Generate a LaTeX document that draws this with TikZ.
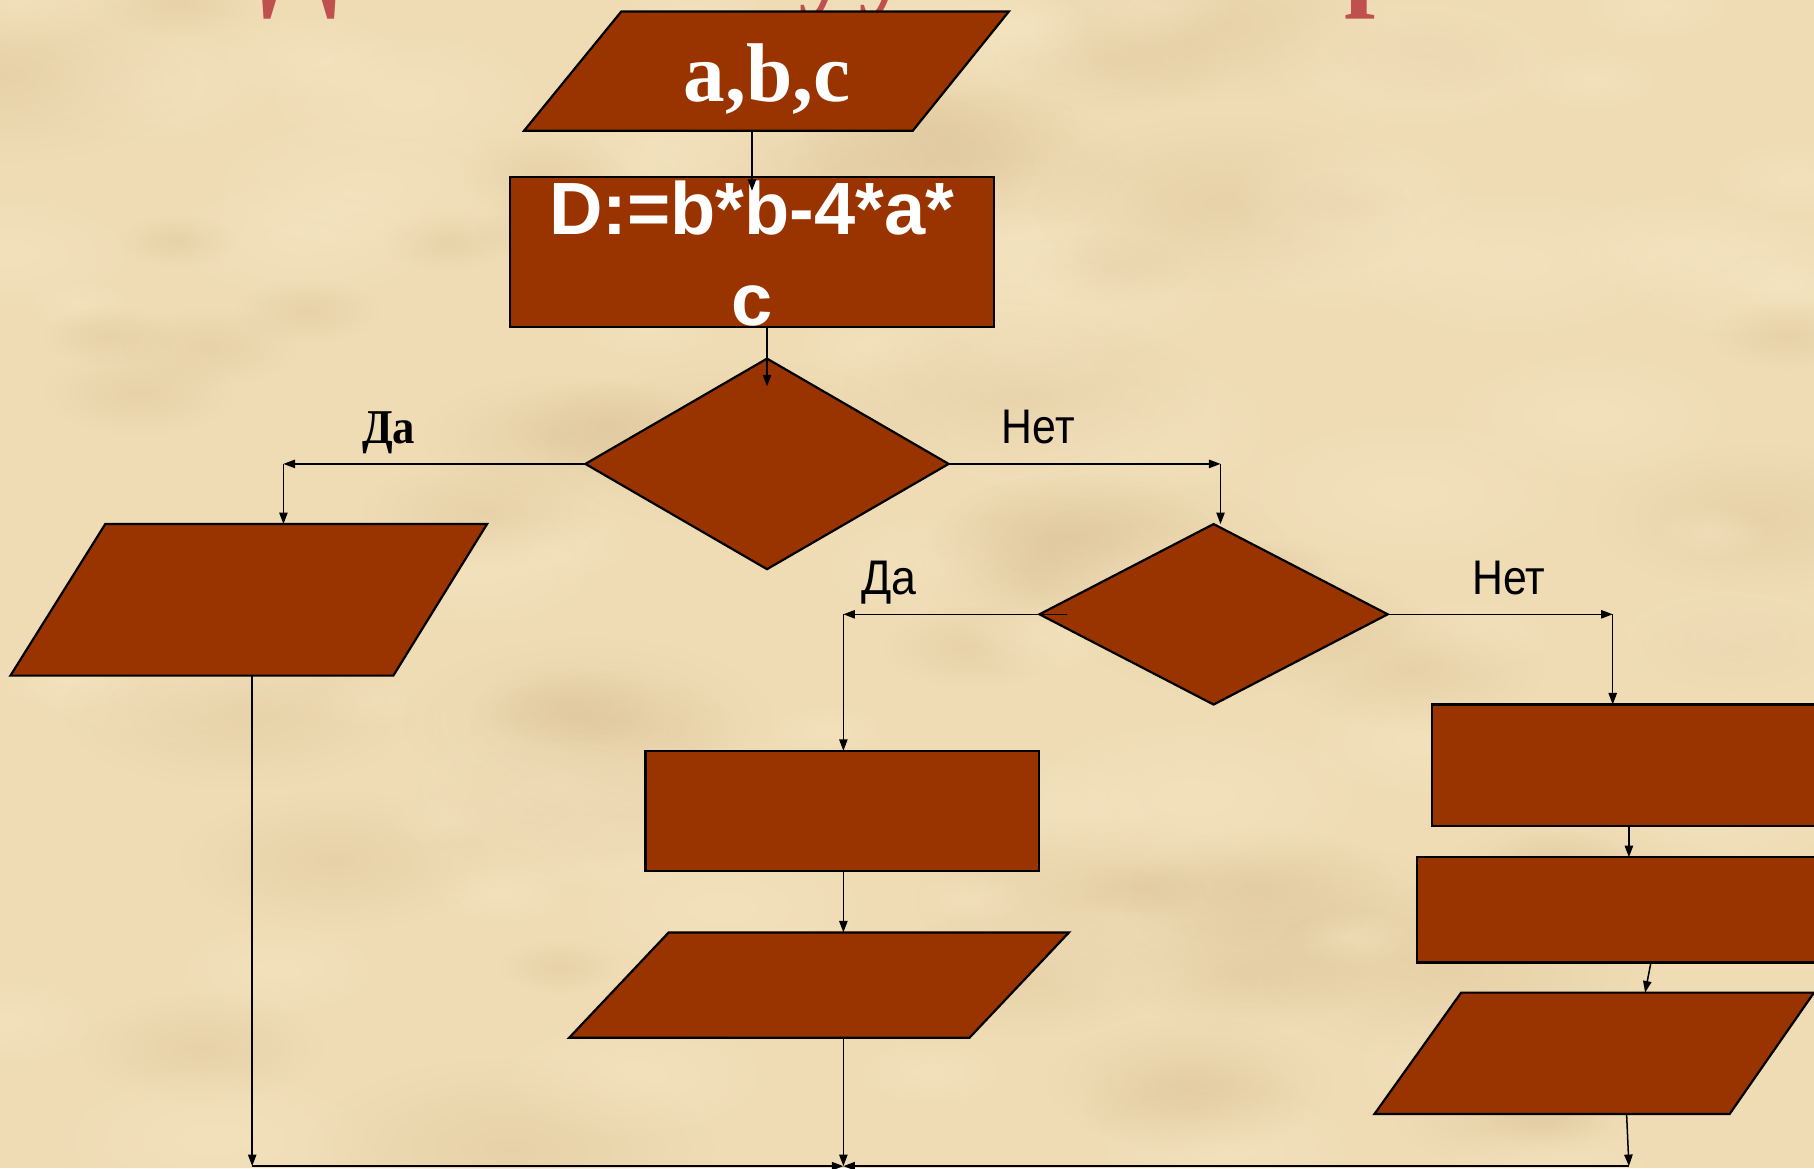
\documentclass[tikz,border=0pt]{standalone}
\usepackage{fontspec}
\setmainfont{Liberation Serif}
\newfontfamily\arial{Liberation Sans}
\usetikzlibrary{arrows.meta,shapes.geometric,fadings}
\definecolor{bgc}{HTML}{EFDCB5}
\definecolor{bglight}{HTML}{FAEACA}
\definecolor{bgdark}{HTML}{D9BF93}
\definecolor{brownf}{HTML}{993300}
\definecolor{titlered}{HTML}{C0504D}
\tikzfading[name=softblob, inner color=transparent!20, outer color=transparent!100]
\tikzset{
  box/.style={draw=black, line width=0.95pt, fill=brownf, inner sep=0pt, outer sep=0pt},
  anch/.style={inner sep=0pt, outer sep=0pt, minimum width=1pt},
  arr/.style={-{Triangle[length=5pt,width=3.6pt]}, line width=0.65pt},
  lbl/.style={anchor=base, inner sep=0pt, font=\arial\fontsize{21pt}{25pt}\selectfont},
  lblserif/.style={anchor=base, inner sep=0pt, font=\bfseries\fontsize{21pt}{25pt}\selectfont},
  dtext/.style={anchor=base, inner sep=0pt, text=white, font=\arial\bfseries\fontsize{32pt}{38pt}\selectfont},
  abctext/.style={anchor=base, inner sep=0pt, text=white, font=\bfseries\fontsize{36pt}{43pt}\selectfont},
  titletext/.style={anchor=base west, inner sep=0pt, text=titlered, font=\bfseries\fontsize{48pt}{56pt}\selectfont},
}
\begin{document}
\begin{tikzpicture}[x=0.5pt,y=-0.5pt]
\useasboundingbox (0,0) rectangle (1568,1010);
\fill[bgc] (0,0) rectangle (1568,1010);
\begin{scope}
  \clip (0,0) rectangle (1568,1010);
  \pgfmathsetseed{11}
  \foreach \i in {1,...,130}{
    \pgfmathsetmacro\bx{rnd*1568}
    \pgfmathsetmacro\by{rnd*1010}
    \pgfmathsetmacro\br{50+rnd*130}
    \pgfmathsetmacro\bt{rnd}
    \ifdim\bt pt<0.5pt \def\bcol{bglight}\else\def\bcol{bgdark}\fi
    \fill[\bcol, opacity=0.45, path fading=softblob] (\bx,\by) ellipse [x radius=\br, y radius=0.45*\br];
  }
  % fragments of the cut-off title
  \node[titletext] (tt1) at (226,-4) {Д};
  \node[titletext] (tt2) at (690,-4) {у};
  \node[titletext] (tt3) at (742,-4) {у};
  \node[titletext] (tt4) at (1162,-4) {р};
\end{scope}

% parallelograms (shapes) and their anchor nodes
\filldraw[box] (537,10) -- (872,10) -- (789,113) -- (453,113) -- cycle;
\node[anch, minimum height=51.5pt] (p1) at (663,61.5) {};
\node[abctext] (p1t) at (663,88) {a,b,c};

\filldraw[box] (91,453) -- (421,453) -- (340,584) -- (9,584) -- cycle;
\node[anch, minimum height=65.5pt] (p2) at (215,518.5) {};

\filldraw[box] (578,806) -- (924,806) -- (838,897) -- (492,897) -- cycle;
\node[anch, minimum height=45.5pt] (p3) at (708,851.5) {};

\filldraw[box] (1263,858) -- (1568,858) -- (1495,963) -- (1188,963) -- cycle;
\node[anch, minimum height=52.5pt] (p4) at (1378,910.5) {};

% rectangles
\node[box, minimum width=209pt, minimum height=65pt] (D) at (650,218) {};
\node[dtext] (Dt1) at (650,203) {D:=b*b-4*a*};
\node[dtext] (Dt2) at (650,281) {c};

\node[box, minimum width=170pt, minimum height=52pt] (r3) at (728,701) {};
\node[box, minimum width=331pt, minimum height=52.5pt] (r4) at (1569,661.5) {};
\node[box, minimum width=337.5pt, minimum height=45.5pt] (r5) at (1562.5,786.5) {};

% decisions
\node[box, diamond, minimum width=157pt, minimum height=91pt] (d1) at (663,401) {};
\node[box, diamond, minimum width=150.5pt, minimum height=78pt] (d2) at (1049,531) {};

% labels
\node[lblserif] (l1) at (336,383) {\scalebox{0.92}[1]{Да}};
\node[lbl] (l2) at (897.5,383) {\scalebox{0.88}[1]{Нет}};
\node[lbl] (l3) at (768.5,514.3) {\scalebox{0.92}[1]{Да}};
\node[lbl] (l4) at (1304,514.3) {\scalebox{0.88}[1]{Нет}};

% corner coordinates
\coordinate (c1) at (245,401);
\coordinate (c2) at (1055,401);
\coordinate (c3) at (729,531);
\coordinate (c4) at (1394,531);
\coordinate (cb) at (729,1008);
\coordinate (cbl) at (218,1008);
\coordinate (cbr) at (1408,1008);
\coordinate (r5o) at (r5.south -| cbr);
\coordinate (p4i) at (p4.north -| cbr);
\coordinate (p4o) at (p4.south -| cbr);

% connectors
\draw[arr] (p1.south -| D.north) -- ([yshift=-6pt]D.north);
\draw[arr] (D.south -| d1.north) -- ([yshift=-12pt]d1.north);
\draw[arr] (d1.west) -- (c1);
\draw[arr] (c1) -- (c1 |- p2.north);
\draw[arr] (d1.east) -- (c2);
\draw[arr] (c2) -- (c2 |- d2.north);
\draw[arr, shorten <=-12pt] (d2.west) -- (c3);
\draw[arr] (c3) -- (c3 |- r3.north);
\draw[arr] (d2.east) -- (c4);
\draw[arr] (c4) -- (c4 |- r4.north);
\draw[arr] (r3.south -| c3) -- (c3 |- p3.north);
\draw[arr] (p3.south -| cb) -- (cb);
\draw[arr] (p2.south -| cbl) -- (cbl);
\draw[arr] (cbl) -- (cb);
\draw[arr] (cbr) -- (cb);
\draw[arr] (r4.south -| cbr) -- (r5.north -| cbr);
\draw[arr] ([xshift=9.5pt]r5o) -- ([xshift=7pt]p4i);
\draw[arr] ([xshift=-1pt]p4o) -- (cbr);
\end{tikzpicture}
\end{document}
